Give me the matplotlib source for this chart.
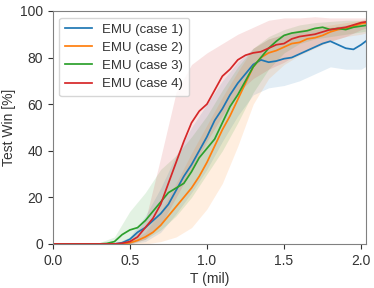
import matplotlib
matplotlib.use("Agg")
import matplotlib.pyplot as plt
import numpy as np

plt.rcParams['font.family'] = ['Liberation Sans', 'DejaVu Sans']

# Mean curves on a common grid (T in millions)
T = [0.00, 0.05, 0.10, 0.15, 0.20, 0.25, 0.30, 0.35, 0.40, 0.45,
     0.50, 0.55, 0.60, 0.65, 0.70, 0.75, 0.80, 0.85, 0.90, 0.95,
     1.00, 1.05, 1.10, 1.15, 1.20, 1.25, 1.30, 1.35, 1.40, 1.45,
     1.50, 1.55, 1.60, 1.65, 1.70, 1.75, 1.80, 1.85, 1.90, 1.95,
     2.00, 2.05]

case1 = [0, 0, 0, 0, 0, 0, 0, 0, 0, 0.5,
         2, 5, 7, 10, 13, 17, 23, 29, 34, 40,
         46, 53, 58, 64, 69, 73, 77, 79, 78, 78.5,
         79.5, 80, 81.5, 83, 84.5, 86, 87, 85.5, 84, 83.5,
         85.5, 88]
case2 = [0, 0, 0, 0, 0, 0, 0, 0, 0, 0,
         0.5, 1.5, 3, 5, 8, 12, 16, 20, 24, 29,
         35, 42, 49, 55, 62, 69, 76, 80, 82, 83,
         84.5, 86, 86.5, 88, 88.5, 89.5, 91, 92, 92.5, 93.5,
         94.5, 95]
case3 = [0, 0, 0, 0, 0, 0, 0, 0.2, 1, 4,
         6, 7, 10, 14, 18, 22, 24, 26, 31, 37,
         41, 45, 52, 59, 64, 70, 76, 80, 84, 87,
         89.5, 90.5, 91, 91.5, 92.5, 93, 92, 92.5, 92, 93,
         93.5, 94]
case4 = [0, 0, 0, 0, 0, 0, 0, 0, 0, 0.3,
         1, 3, 7, 11, 17, 26, 35, 44, 52, 57,
         60, 66, 72, 75, 79, 81, 82, 82.5, 84, 85.5,
         86, 88, 89, 89.5, 90, 91, 92, 92.5, 93, 94,
         95, 95.5]

# Shaded band bounds on a coarser grid
TB = [0.0, 0.3, 0.4, 0.5, 0.6, 0.7, 0.8, 0.9, 1.0, 1.1,
      1.2, 1.3, 1.4, 1.5, 1.6, 1.7, 1.8, 1.9, 2.0, 2.05]

lo1 = [0, 0, 0, 0, 1, 5, 13, 22, 32, 44, 55, 64, 67, 68, 70, 73, 76, 75, 75, 77]
hi1 = [0, 0, 0, 3, 12, 24, 38, 50, 60, 70, 78, 84, 88, 90, 91, 92, 93, 94, 94, 95]
lo2 = [0, 0, 0, 0, 0, 1, 3, 7, 15, 26, 42, 60, 71, 77, 81, 84, 87, 89, 90, 91]
hi2 = [0, 0, 0, 1, 5, 14, 26, 39, 51, 63, 74, 84, 88, 90, 92, 93, 94, 95, 96, 97]
lo3 = [0, 0, 0, 0, 2, 6, 12, 20, 30, 40, 52, 65, 75, 82, 86, 88, 89, 90, 91, 91.5]
hi3 = [0, 0.5, 3, 14, 22, 32, 38, 46, 55, 66, 76, 84, 89, 92, 94, 95, 95.5, 96, 96, 96.5]
lo4 = [0, 0, 0, 0, 2, 8, 20, 32, 44, 55, 65, 71, 75, 78, 82, 85, 87, 89, 92, 93]
hi4 = [0, 0, 0.5, 2, 10, 37, 65, 77, 82, 86, 90, 93, 96, 97, 97, 97.5, 97, 97, 97, 97]

labels = ["EMU (case 1)", "EMU (case 2)", "EMU (case 3)", "EMU (case 4)"]
colors = ["#1f77b4", "#ff7f0e", "#2ca02c", "#d62728"]

fig = plt.figure(figsize=(3.74, 2.88), dpi=100)
ax = fig.add_axes([0.141, 0.153, 0.837, 0.809])

means = [case1, case2, case3, case4]
los = [lo1, lo2, lo3, lo4]
his = [hi1, hi2, hi3, hi4]
for m, lo, hi, c in zip(means, los, his, colors):
    ax.fill_between(TB, lo, hi, color=c, alpha=0.13, linewidth=0)
for m, c, lab in zip(means, colors, labels):
    ax.plot(T, m, color=c, lw=1.25, label=lab)

ax.set_xlim(0, 2.03)
ax.set_ylim(0, 100)
ax.set_xticks([0.0, 0.5, 1.0, 1.5, 2.0])
ax.set_yticks([0, 20, 40, 60, 80, 100])
ax.set_xlabel("T (mil)", fontsize=10, color="#333333", labelpad=3)
ax.set_ylabel("Test Win [%]", fontsize=10, color="#333333", labelpad=3)
ax.tick_params(axis='both', labelsize=10, colors="#333333", length=3.5, width=0.8,
               direction='out')
for s in ax.spines.values():
    s.set_color("#808080")
    s.set_linewidth(0.8)

leg = ax.legend(loc="upper left", fontsize=9.5, frameon=True, fancybox=True,
                edgecolor="#cccccc", borderpad=0.45, labelspacing=0.45)
for t in leg.get_texts():
    t.set_color("#333333")

fig.savefig("out.png", dpi=100)
